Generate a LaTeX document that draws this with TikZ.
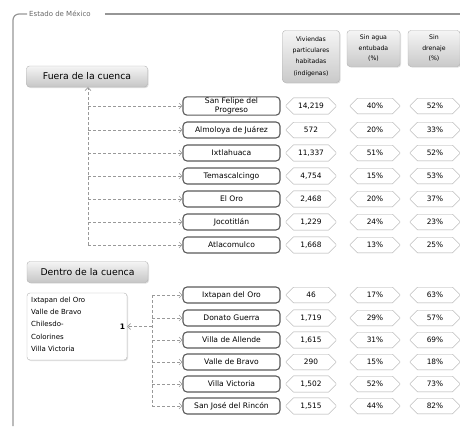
\documentclass[tikz,border=0pt]{standalone}
\usepackage{fontspec}
\setmainfont{DejaVu Sans}
\usepackage{tikz}
\usetikzlibrary{arrows.meta, positioning, shapes.misc, shadows}
\definecolor{framec}{RGB}{150,150,150}
\definecolor{boxline}{RGB}{90,90,90}
\tikzset{
  headbox/.style={draw=gray!60, rounded corners=3pt, top color=gray!8, bottom color=gray!42,
    drop shadow={opacity=0.25, shadow xshift=1pt, shadow yshift=-1pt},
    align=center, inner sep=1pt},
  groupbox/.style={draw=gray!60, rounded corners=3pt, top color=gray!8, bottom color=gray!45,
    drop shadow={opacity=0.25, shadow xshift=1pt, shadow yshift=-1pt},
    minimum width=121pt, minimum height=21pt, font=\fontsize{9.3}{11}\selectfont, inner sep=2pt},
  munibox/.style={draw=boxline, line width=1.1pt, rounded corners=4pt, fill=white,
    minimum width=97pt, minimum height=16pt, align=center,
    font=\fontsize{7.6}{9}\selectfont, inner sep=1pt},
  valbox/.style={draw=gray!70, chamfered rectangle, chamfered rectangle xsep=3.5pt,
    chamfered rectangle ysep=4pt, minimum width=50pt, minimum height=12pt,
    font=\fontsize{7.4}{8}\selectfont, inner sep=1pt},
  link/.style={draw=gray!80, densely dashed, line width=0.6pt,
    -{Straight Barb[length=3pt, width=6pt]}},
}
% one row: name, y, label, three values
\newcommand{\munirow}[6]{%
  \node[munibox] (#1) at (231.5,#2) {#3};
  \node[valbox] (#1a) at (311,#2) {#4};
  \node[valbox] (#1b) at (375,#2) {#5};
  \node[valbox] (#1c) at (435,#2) {#6};}

\begin{document}
\begin{tikzpicture}[x=1pt, y=-1pt]
  \useasboundingbox (0,0) rectangle (460,426);
  % frame
  \node[anchor=west, font=\fontsize{7}{8}\selectfont, text=gray!80!black, inner sep=2pt] (title) at (27,14) {Estado de México};
  \draw[framec, line width=1.2pt, rounded corners=6pt] (title.west) -- (13,14) -- (13,426);
  \draw[framec, line width=1.2pt] (title.east) ++(12,0) -- (460,14);
  % headers
  \node[headbox, minimum width=57pt, minimum height=52pt, font=\fontsize{6.2}{11.2}\selectfont] (hviv) at (311,56.5) {Viviendas\\particulares\\habitadas\\(indígenas)};
  \node[headbox, minimum width=53pt, minimum height=36pt, font=\fontsize{6.2}{10.5}\selectfont] (hagua) at (373.5,48.5) {Sin agua\\entubada\\(\%)};
  \node[headbox, minimum width=52pt, minimum height=36pt, font=\fontsize{6.2}{10.5}\selectfont] (hdren) at (434,48.5) {Sin\\drenaje\\(\%)};
  % fuera de la cuenca
  \node[groupbox] (fuera) at (87,76.5) {Fuera de la cuenca};
  \munirow{sfp}{106}{San Felipe del\\Progreso}{14,219}{40\%}{52\%}
  \munirow{alm}{130}{Almoloya de Juárez}{572}{20\%}{33\%}
  \munirow{ixt}{153}{Ixtlahuaca}{11,337}{51\%}{52\%}
  \munirow{tem}{176}{Temascalcingo}{4,754}{15\%}{53\%}
  \munirow{oro}{199}{El Oro}{2,468}{20\%}{37\%}
  \munirow{joc}{222}{Jocotitlán}{1,229}{24\%}{23\%}
  \munirow{atl}{245}{Atlacomulco}{1,668}{13\%}{25\%}
  \coordinate (fbot) at (88,245);
  \draw[link] (fbot) -- (fbot |- fuera.south);
  \foreach \m in {sfp,alm,ixt,tem,oro,joc,atl}
    \draw[link] (fbot |- \m.west) -- (\m.west);
  % dentro de la cuenca
  \node[groupbox] (dentro) at (87.5,272) {Dentro de la cuenca};
  \node[draw=gray!60, rounded corners=3pt, fill=white, minimum width=100pt, minimum height=67pt,
    drop shadow={opacity=0.25, shadow xshift=1pt, shadow yshift=-1pt}] (lista) at (77,326.5) {};
  \node[anchor=north west, align=left, font=\fontsize{7}{12.2}\selectfont, inner sep=0pt]
    (listatxt) at (31,297) {Ixtapan del Oro\\Valle de Bravo\\Chilesdo-\\Colorines\\Villa Victoria};
  \node[font=\fontsize{7.5}{8}\selectfont\bfseries, anchor=east, inner sep=2pt] (uno) at (lista.east) {1};
  \munirow{ixo}{295}{Ixtapan del Oro}{46}{17\%}{63\%}
  \munirow{don}{318}{Donato Guerra}{1,719}{29\%}{57\%}
  \munirow{vaa}{340}{Villa de Allende}{1,615}{31\%}{69\%}
  \munirow{vab}{362}{Valle de Bravo}{290}{15\%}{18\%}
  \munirow{viv}{384}{Villa Victoria}{1,502}{52\%}{73\%}
  \munirow{sjr}{406}{San José del Rincón}{1,515}{44\%}{82\%}
  \coordinate (dtop) at (152,295);
  \coordinate (dbot) at (152,406);
  \draw[draw=gray!80, densely dashed, line width=0.6pt] (dtop) -- (dbot);
  \draw[link] (dtop |- lista.east) -- (lista.east);
  \foreach \m in {ixo,don,vaa,vab,viv,sjr}
    \draw[link] (dtop |- \m.west) -- (\m.west);
\end{tikzpicture}
\end{document}
